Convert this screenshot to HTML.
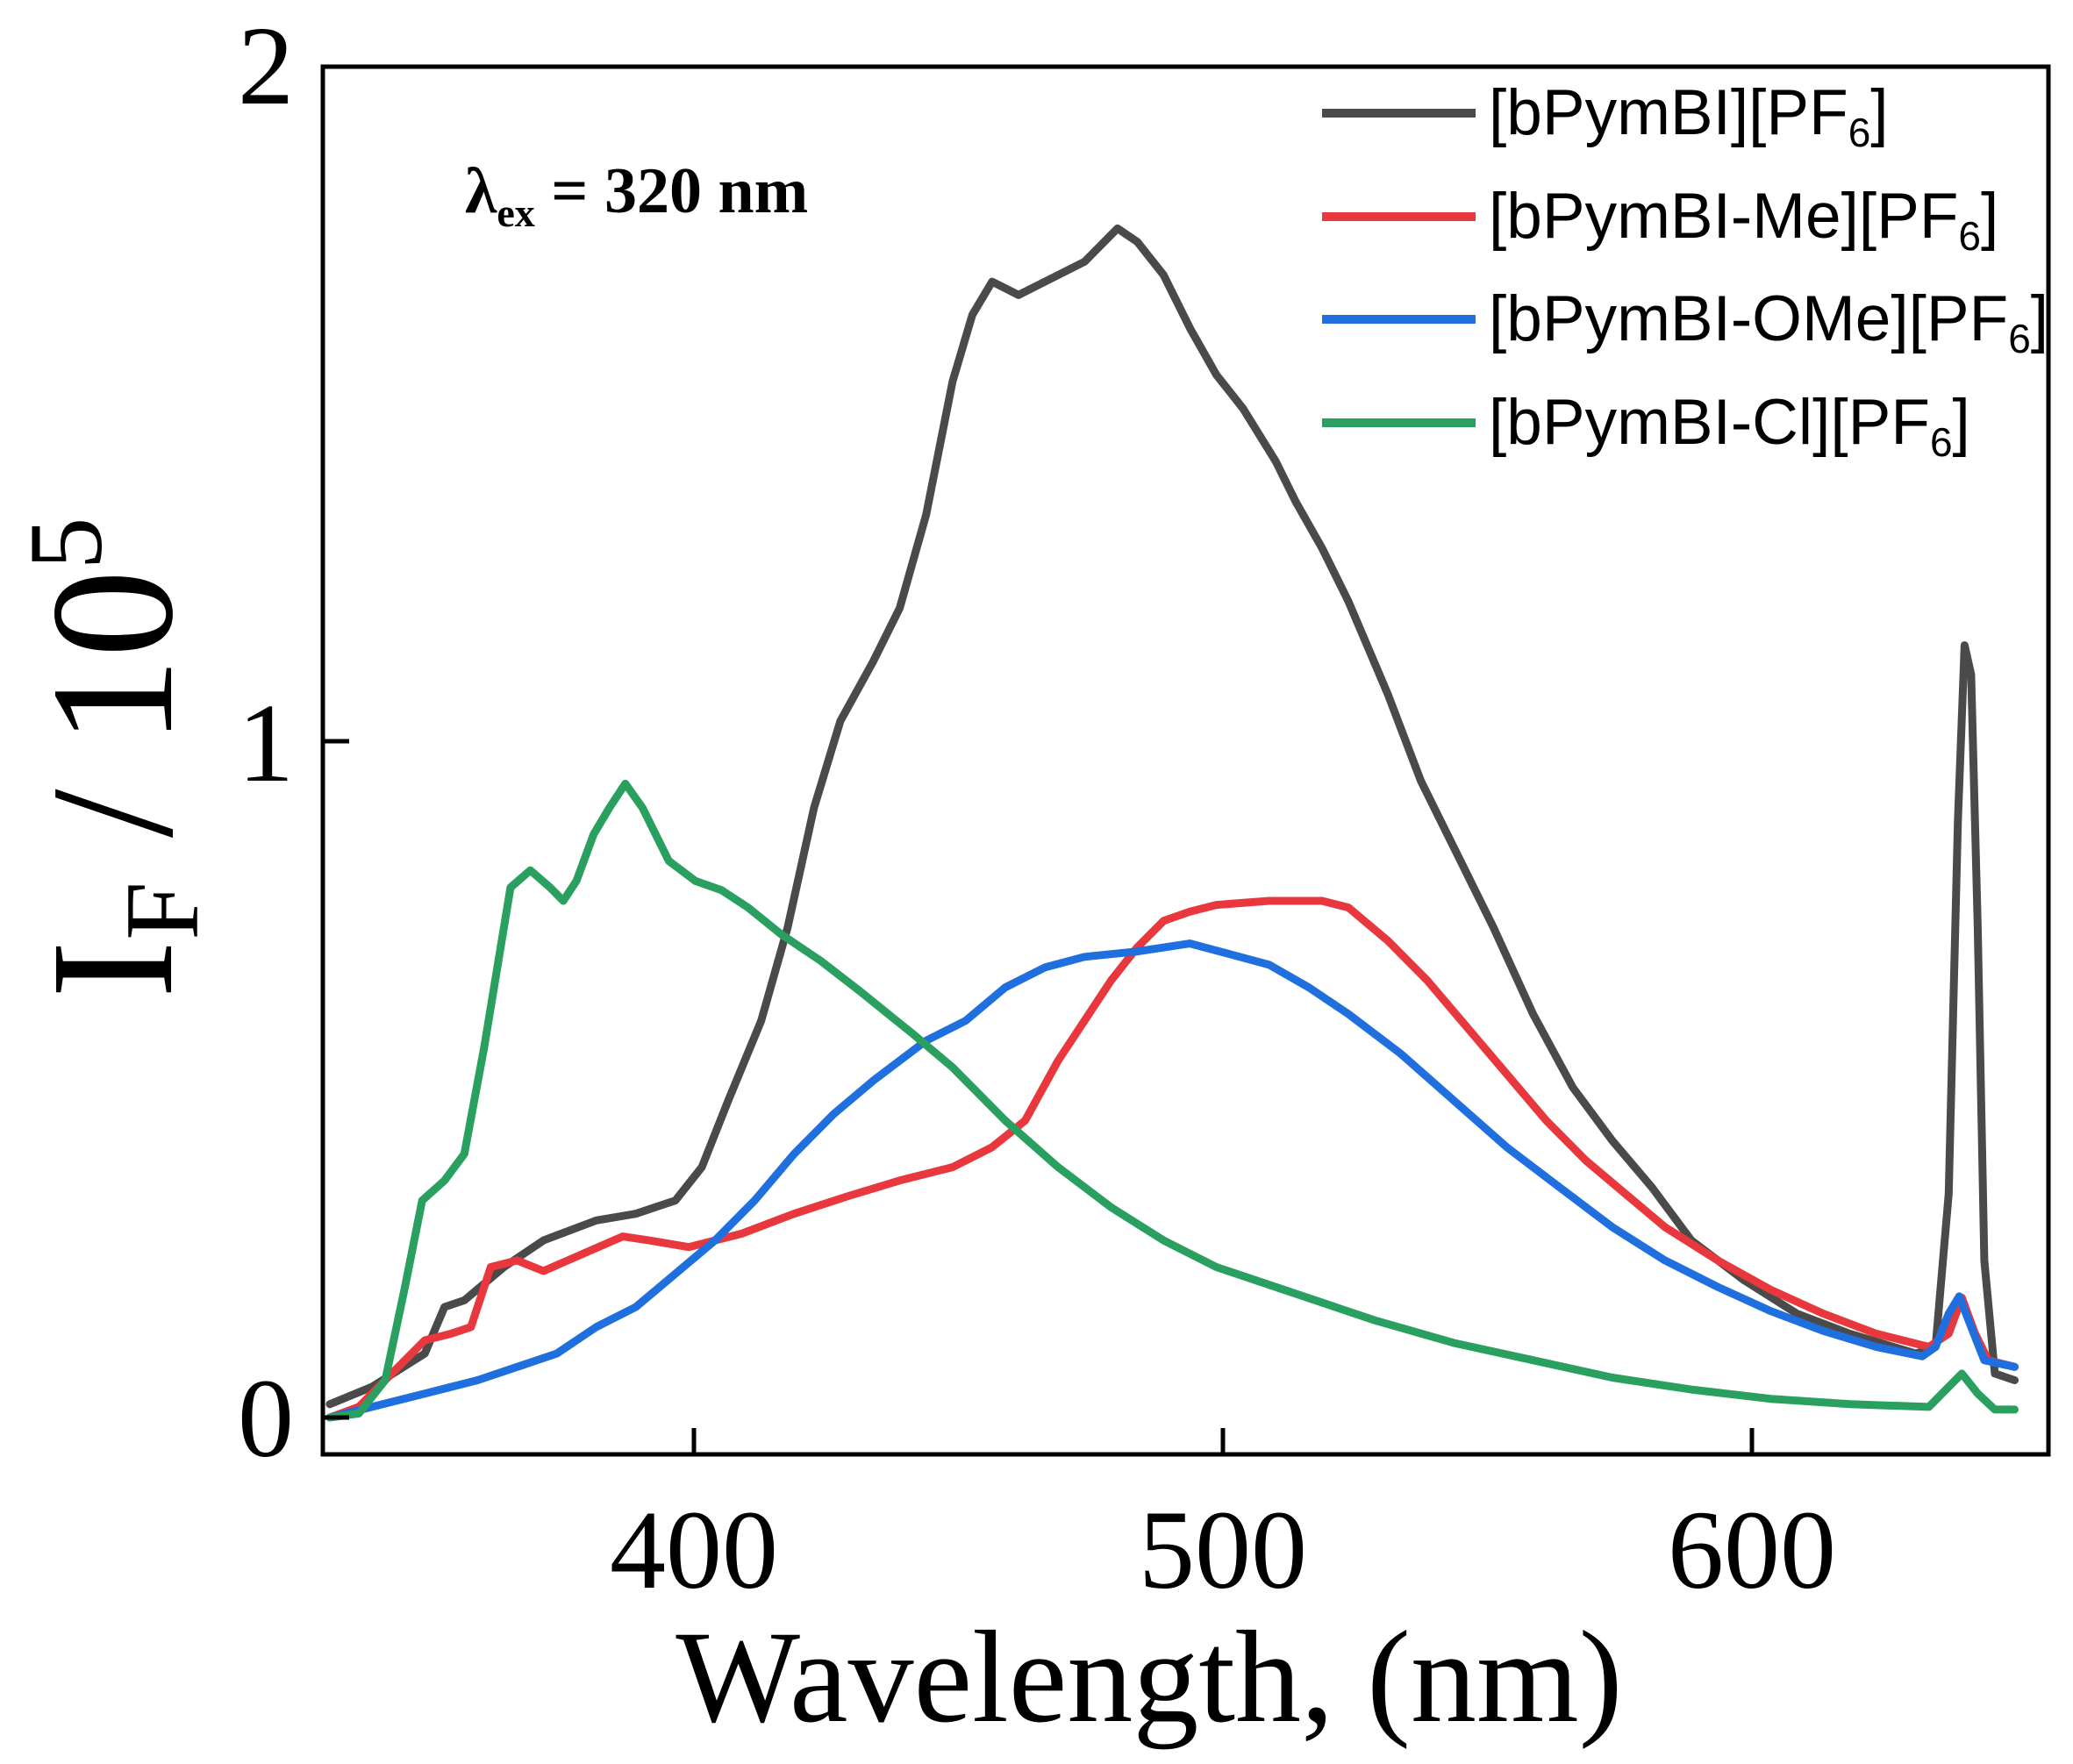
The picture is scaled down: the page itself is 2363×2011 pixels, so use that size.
<!DOCTYPE html>
<html><head><meta charset="utf-8"><style>
html,body{margin:0;padding:0;background:#fff;}
svg{display:block;}
</style></head><body>
<svg id="s" width="2363" height="2011" viewBox="0 0 2363 2011" xmlns="http://www.w3.org/2000/svg">
<rect width="2363" height="2011" fill="#fff"/>
<g id="curves" fill="none" stroke-width="9" stroke-linejoin="round" stroke-linecap="round"></g>
<rect x="368" y="76" width="1967" height="1582" fill="none" stroke="#000" stroke-width="5"/>
<g stroke="#000" stroke-width="5">
<line x1="791" y1="1658" x2="791" y2="1628"/>
<line x1="1394" y1="1658" x2="1394" y2="1628"/>
<line x1="1997" y1="1658" x2="1997" y2="1628"/>
<line x1="368" y1="1616" x2="398" y2="1616"/>
<line x1="368" y1="845" x2="398" y2="845"/>
</g>
<g font-family="Liberation Serif, serif" fill="#000">
<text x="303" y="1660" font-size="128" text-anchor="middle">0</text>
<text x="303" y="890" font-size="128" text-anchor="middle">1</text>
<text x="303" y="118" font-size="128" text-anchor="middle">2</text>
<text x="791" y="1810" font-size="128" text-anchor="middle">400</text>
<text x="1394" y="1810" font-size="128" text-anchor="middle">500</text>
<text x="1997" y="1810" font-size="128" text-anchor="middle">600</text>
<text x="1310" y="1962" font-size="150" text-anchor="middle">Wavelength, (nm)</text>
<text transform="translate(195,864) rotate(-90)" font-size="200" text-anchor="middle">I<tspan font-size="120" dy="30">F</tspan><tspan dy="-30"> / 10</tspan><tspan font-size="120" dy="-80">5</tspan></text>
<text x="530" y="242" font-size="74" font-weight="bold">λ<tspan font-size="46" dy="16">ex</tspan><tspan dy="-16"> = 320 nm</tspan></text>
</g>
<g stroke-width="10">
<line x1="1507" y1="129" x2="1682" y2="129" stroke="#4a4a4a"/>
<line x1="1507" y1="247" x2="1682" y2="247" stroke="#e8383d"/>
<line x1="1507" y1="364" x2="1682" y2="364" stroke="#1f6fde"/>
<line x1="1507" y1="482" x2="1682" y2="482" stroke="#2aa060"/>
</g>
<g font-family="Liberation Sans, sans-serif" font-size="73" fill="#000">
<text x="1697" y="153">[bPymBI][PF<tspan font-size="46" dy="14">6</tspan><tspan dy="-14">]</tspan></text>
<text x="1697" y="271">[bPymBI-Me][PF<tspan font-size="46" dy="14">6</tspan><tspan dy="-14">]</tspan></text>
<text x="1697" y="388">[bPymBI-OMe][PF<tspan font-size="46" dy="14">6</tspan><tspan dy="-14">]</tspan></text>
<text x="1697" y="506">[bPymBI-Cl][PF<tspan font-size="46" dy="14">6</tspan><tspan dy="-14">]</tspan></text>
</g>
</svg>
<script>
var data={
"#4a4a4a":[[248,1058],[280,1045],[320,1020],[335,985],[350,980],[380,955],[410,935],[450,920],[480,915],[510,905],[530,880],[550,830],[575,770],[595,700],[615,610],[635,545],[660,500],[680,460],[700,390],[720,290],[735,240],[750,215],[770,225],[790,215],[820,200],[845,175],[860,185],[880,210],[900,250],[920,285],[940,310],[965,350],[980,380],[1000,415],[1020,455],[1050,525],[1075,590],[1100,640],[1130,700],[1160,765],[1190,820],[1220,860],[1250,895],[1280,935],[1320,965],[1360,990],[1400,1005],[1450,1020],[1465,1015],[1475,900],[1482,620],[1487,488],[1492,510],[1497,700],[1502,950],[1510,1035],[1525,1040]],
"#e8383d":[[248,1068],[270,1060],[300,1030],[320,1010],[340,1005],[355,1000],[370,955],[390,950],[410,958],[440,945],[470,932],[490,935],[520,940],[560,930],[600,915],[640,902],[680,890],[720,880],[750,865],[775,845],[800,800],[820,770],[840,740],[860,715],[880,695],[900,688],[920,683],[960,680],[1000,680],[1020,685],[1050,710],[1080,740],[1110,775],[1140,810],[1170,845],[1200,875],[1230,900],[1260,925],[1300,950],[1340,972],[1380,990],[1420,1005],[1460,1015],[1475,1005],[1485,978],[1495,1005],[1505,1025],[1525,1030]],
"#1f6fde":[[248,1068],[280,1060],[320,1050],[360,1040],[390,1030],[420,1020],[450,1000],[480,985],[510,960],[540,935],[570,905],[600,870],[630,840],[660,815],[700,785],[730,770],[760,745],[790,730],[820,722],[860,718],[900,712],[930,720],[960,728],[990,745],[1020,765],[1060,795],[1100,830],[1140,865],[1180,895],[1220,925],[1260,950],[1300,970],[1340,988],[1380,1003],[1420,1015],[1455,1022],[1465,1015],[1475,990],[1483,977],[1492,1000],[1502,1025],[1525,1030]],
"#2aa060":[[248,1068],[270,1065],[290,1040],[305,970],[318,905],[335,890],[350,870],[365,790],[385,670],[400,657],[415,670],[425,680],[435,665],[448,630],[460,610],[472,592],[485,610],[505,650],[525,665],[545,672],[565,685],[590,705],[620,725],[650,748],[690,780],[720,805],[760,845],[800,880],[840,910],[880,935],[920,955],[980,975],[1040,995],[1100,1012],[1160,1025],[1220,1038],[1280,1047],[1340,1054],[1400,1058],[1460,1060],[1472,1048],[1485,1035],[1497,1050],[1510,1062],[1525,1062]]
};
var g=document.getElementById('curves');
for(var c in data){
  var pts=data[c],d='';
  for(var i=0;i<pts.length;i++){
    var x=791+(pts[i][0]-524)*1.504, y=1616+(pts[i][1]-1068)*1.518;
    if(x<370)x=370;
    d+=(i?'L':'M')+x.toFixed(1)+','+y.toFixed(1);
  }
  var p=document.createElementNS('http://www.w3.org/2000/svg','path');
  p.setAttribute('d',d);p.setAttribute('stroke',c);g.appendChild(p);
}
</script>
</body></html>
